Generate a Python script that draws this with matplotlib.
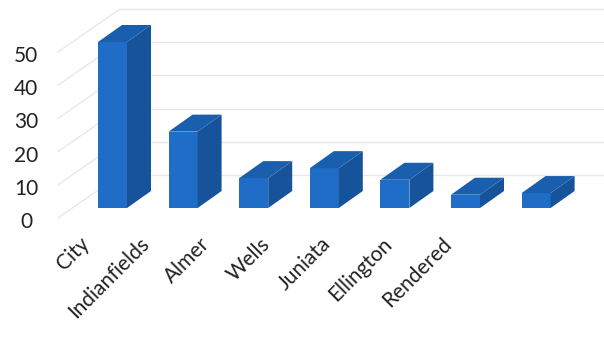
import matplotlib
matplotlib.use("Agg")
import matplotlib.pyplot as plt
from matplotlib.patches import Polygon

# --- data ---------------------------------------------------------------
categories = ["City", "Indianfields", "Almer", "Wells", "Juniata", "Ellington", "Rendered"]
values = [50, 23, 9, 12, 8.5, 4, 4.5]
y_ticks = [0, 10, 20, 30, 40, 50]

# --- oblique 3-D geometry (in data units: x = category slot, y = value) ---
PX_PER_CAT = 70.6        # horizontal pixels per category slot
PX_PER_UNIT = 3.32       # vertical pixels per value unit
W, H = 604, 337
X0_PX, Y0_PX = 112.5, 208  # first bar centre / value-zero line, in pixels from top-left

bar_w = 29 / PX_PER_CAT
depth = (24 / PX_PER_CAT, 17 / PX_PER_UNIT)       # front -> back of a bar
front_off = (-14 / PX_PER_CAT, -10 / PX_PER_UNIT)  # bar front -> front edge of the box
back_off = (48 / PX_PER_CAT, 33 / PX_PER_UNIT)     # bar front -> back wall
wall_x = (72 - X0_PX) / PX_PER_CAT                 # left wall, bar-front plane

# category labels sit on the near floor edge, which is foreshortened
label_step = 60.5 / PX_PER_CAT
label_x0 = (86 - X0_PX) / PX_PER_CAT
label_y = (Y0_PX - 241) / PX_PER_UNIT

front_col = "#1f6dc6"
side_col = "#16539b"
top_col = "#1a5eae"
grid_col = "#e8e8e8"

fig = plt.figure(figsize=(W / 100, H / 100), dpi=100)
ax = fig.add_axes([0, 0, 1, 1])
ax.set_xlim(-X0_PX / PX_PER_CAT, (W - X0_PX) / PX_PER_CAT)
ax.set_ylim(-(H - Y0_PX) / PX_PER_UNIT, Y0_PX / PX_PER_UNIT)
ax.axis("off")

font = ["Lato", "DejaVu Sans"]

# back-wall gridlines and left-wall gridlines
x_right = (W - X0_PX) / PX_PER_CAT
for t in y_ticks:
    bx = wall_x + back_off[0]
    by = t + back_off[1]
    ax.plot([bx, x_right], [by, by], color=grid_col, lw=1.0, zorder=1)
    fx = wall_x + front_off[0]
    fy = t + front_off[1]
    ax.plot([fx, bx], [fy, by], color=grid_col, lw=1.0, zorder=1)
    ax.text(-1.225, fy - 1.2, str(t), ha="center", va="center",
            fontsize=15, color="#222222", family=font)

# bars: front face, right side, top
for i, v in enumerate(values):
    x1, x2 = i - bar_w / 2, i + bar_w / 2
    dx, dy = depth
    ax.bar(i, v, width=bar_w, bottom=0, color=front_col, zorder=3, linewidth=0)
    side = Polygon([(x2, 0), (x2 + dx, dy), (x2 + dx, v + dy), (x2, v)],
                   closed=True, facecolor=side_col, edgecolor="none", zorder=3)
    top = Polygon([(x1, v), (x2, v), (x2 + dx, v + dy), (x1 + dx, v + dy)],
                  closed=True, facecolor=top_col, edgecolor="none", zorder=3)
    ax.add_patch(side)
    ax.add_patch(top)

# category labels, rotated along the floor
for i, name in enumerate(categories):
    ax.text(label_x0 + i * label_step, label_y, name,
            rotation=45, rotation_mode="anchor", ha="right", va="center",
            fontsize=15, color="#222222", family=font)

fig.savefig("out.png", dpi=100)
